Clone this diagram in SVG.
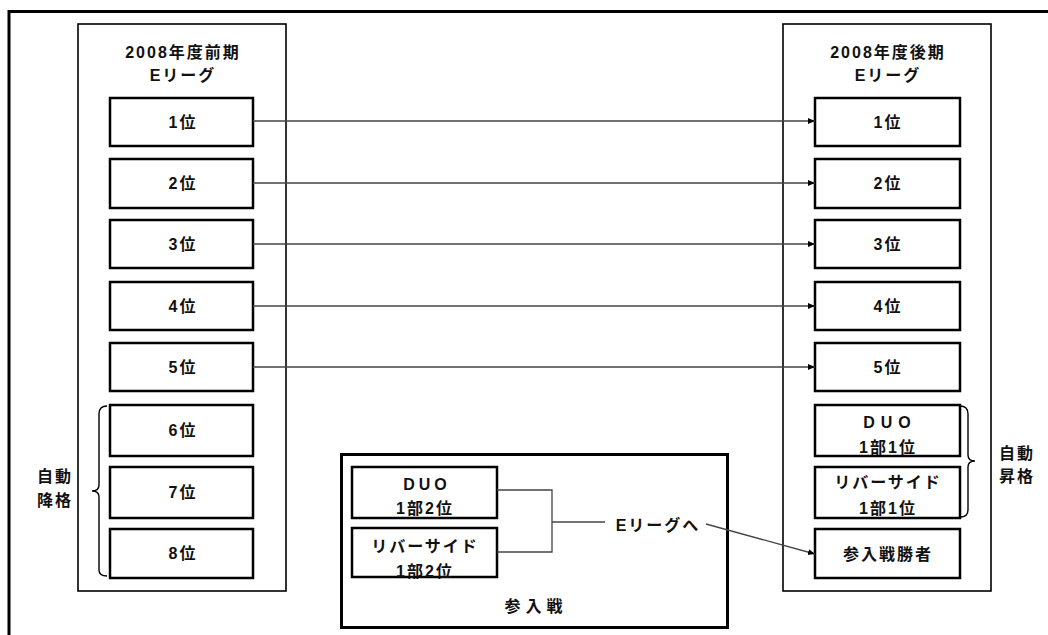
<svg xmlns="http://www.w3.org/2000/svg" width="1048" height="635" viewBox="0 0 1048 635">
<style>
text{font-family:"Liberation Sans","Noto Sans CJK JP",sans-serif;font-weight:bold;font-size:16px;letter-spacing:2px;fill:#111;text-anchor:middle}
.box{fill:#fff;stroke:#000;stroke-width:2.5}
.cont{fill:#fff;stroke:#000;stroke-width:1.6}
.ln{fill:none;stroke:#444;stroke-width:1.3}
.br{fill:none;stroke:#000;stroke-width:1.4}
</style>
<defs>
<marker id="ah" markerWidth="8" markerHeight="8" refX="7" refY="4" orient="auto" markerUnits="userSpaceOnUse">
<path d="M0,1 L7,4 L0,7 Z" fill="#000"/>
</marker>
</defs>
<rect width="1048" height="635" fill="#fff"/>
<g id="frame">
<path d="M9,635 V11.5 H1048" fill="none" stroke="#000" stroke-width="3"/>
</g>
<g id="left-league">
<rect class="cont" x="78" y="24" width="208" height="567"/>
<text x="183" y="58">2008年度前期</text>
<text x="183" y="81">Eリーグ</text>
</g>
<g id="right-league">
<rect class="cont" x="783" y="24" width="208" height="567"/>
<text x="888" y="58">2008年度後期</text>
<text x="888" y="81">Eリーグ</text>
</g>
<g id="L1"><rect class="box" x="110" y="98" width="143" height="48"/><text x="183" y="128">1位</text></g>
<g id="L2"><rect class="box" x="110" y="159" width="143" height="49"/><text x="183" y="189">2位</text></g>
<g id="L3"><rect class="box" x="110" y="220" width="143" height="48"/><text x="183" y="250">3位</text></g>
<g id="L4"><rect class="box" x="110" y="282" width="143" height="48"/><text x="183" y="312">4位</text></g>
<g id="L5"><rect class="box" x="110" y="343" width="143" height="48"/><text x="183" y="373">5位</text></g>
<g id="L6"><rect class="box" x="110" y="405" width="143" height="51"/><text x="183" y="436">6位</text></g>
<g id="L7"><rect class="box" x="110" y="467" width="143" height="51"/><text x="183" y="498">7位</text></g>
<g id="L8"><rect class="box" x="110" y="529" width="143" height="49"/><text x="183" y="559">8位</text></g>
<g id="R1"><rect class="box" x="815" y="98" width="145" height="48"/><text x="888" y="128">1位</text></g>
<g id="R2"><rect class="box" x="815" y="159" width="145" height="49"/><text x="888" y="189">2位</text></g>
<g id="R3"><rect class="box" x="815" y="220" width="145" height="48"/><text x="888" y="250">3位</text></g>
<g id="R4"><rect class="box" x="815" y="282" width="145" height="48"/><text x="888" y="312">4位</text></g>
<g id="R5"><rect class="box" x="815" y="343" width="145" height="48"/><text x="888" y="373">5位</text></g>
<g id="R6"><rect class="box" x="815" y="405" width="145" height="51"/><text x="890" y="428" style="letter-spacing:6px">DUO</text><text x="888" y="453">1部1位</text></g>
<g id="R7"><rect class="box" x="815" y="467" width="145" height="51"/><text x="888" y="488">リバーサイド</text><text x="888" y="514">1部1位</text></g>
<g id="R8"><rect class="box" x="815" y="529" width="145" height="49"/><text x="888" y="560">参入戦勝者</text></g>
<g id="playoff">
<rect x="341.5" y="454.5" width="386" height="173" fill="#fff" stroke="#000" stroke-width="3"/>
<text x="536" y="612" style="letter-spacing:5px">参入戦</text>
</g>
<g id="P1"><rect class="box" x="352" y="467" width="145" height="51"/><text x="427" y="490" style="letter-spacing:4px">DUO</text><text x="425" y="514">1部2位</text></g>
<g id="P2"><rect class="box" x="352" y="528" width="145" height="49"/><text x="425" y="552">リバーサイド</text><text x="425" y="577">1部2位</text></g>
<g id="labels">
<text x="55" y="482">自動</text>
<text x="55" y="506">降格</text>
<text x="1017" y="459">自動</text>
<text x="1017" y="482">昇格</text>
<text x="658" y="531">Eリーグへ</text>
</g>
<g id="braces">
<path class="br" d="M107,406 Q99,406 99,414 V485 Q99,491 92,491 Q99,491 99,497 V570 Q99,576 107,576"/>
<path class="br" d="M960,406 Q968,406 968,414 V455 Q968,461 975,461 Q968,461 968,467 V510 Q968,517 960,517"/>
</g>
<g id="connectors">
<line class="ln" x1="253" y1="121" x2="815" y2="121" marker-end="url(#ah)"/>
<line class="ln" x1="253" y1="183" x2="815" y2="183" marker-end="url(#ah)"/>
<line class="ln" x1="253" y1="244" x2="815" y2="244" marker-end="url(#ah)"/>
<line class="ln" x1="253" y1="306" x2="815" y2="306" marker-end="url(#ah)"/>
<line class="ln" x1="253" y1="367" x2="815" y2="367" marker-end="url(#ah)"/>
<path class="ln" d="M497,490 H552 V552 H497"/>
<line class="ln" x1="552" y1="522" x2="605" y2="522"/>
<line class="ln" x1="706" y1="524" x2="815" y2="554" marker-end="url(#ah)"/>
</g>
</svg>
